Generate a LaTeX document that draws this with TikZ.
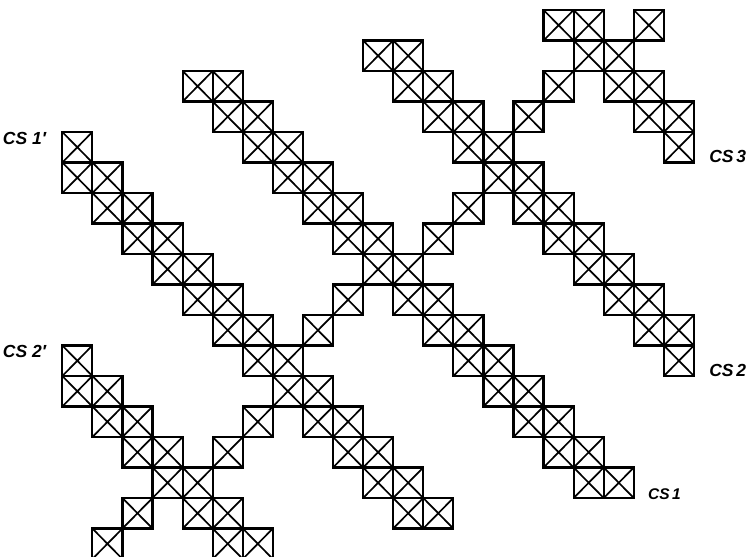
\documentclass[tikz,border=0pt]{standalone}
\usepackage{fontspec}
\setsansfont{Liberation Sans}
\usepackage{tikz}
\usetikzlibrary{positioning}

\begin{document}
\begin{tikzpicture}[
    x=30.08pt, y=-30.5pt,
    cell/.style={draw, line width=2.2pt, minimum width=30.08pt, minimum height=30.5pt, inner sep=0pt,
        path picture={\draw[line width=1.7pt]
            (path picture bounding box.north west) -- (path picture bounding box.south east)
            (path picture bounding box.south west) -- (path picture bounding box.north east);}},
    cslabel/.style={font=\sffamily\bfseries\itshape\fontsize{17.5}{17.5}\selectfont, inner sep=0pt},
]
\useasboundingbox (-2.071,-0.328) rectangle (22.796,17.934);
\clip (-2.071,-0.328) rectangle (22.796,17.934);

% CS 1' band
\node[cell] (c-0-4) at (0.5,4.5) {};
\foreach \r [evaluate=\r as \a using int(\r-5), evaluate=\r as \b using int(\r-4)] in {5,...,16} {
    \node[cell] (c-\a-\r) at (\a+.5,\r+.5) {};
    \node[cell] (c-\b-\r) at (\b+.5,\r+.5) {};
}

% CS 1 band
\foreach \r [evaluate=\r as \a using int(\r+2), evaluate=\r as \b using int(\r+3)] in {2,...,15} {
    \node[cell] (c-\a-\r) at (\a+.5,\r+.5) {};
    \node[cell] (c-\b-\r) at (\b+.5,\r+.5) {};
}

% CS 2' band
\node[cell] (c-0-11) at (0.5,11.5) {};
\foreach \r [evaluate=\r as \a using int(\r-12), evaluate=\r as \b using int(\r-11)] in {12,...,17} {
    \node[cell] (c-\a-\r) at (\a+.5,\r+.5) {};
    \node[cell] (c-\b-\r) at (\b+.5,\r+.5) {};
}

% CS 2 band
\foreach \r [evaluate=\r as \a using int(\r+9), evaluate=\r as \b using int(\r+10)] in {1,...,10} {
    \node[cell] (c-\a-\r) at (\a+.5,\r+.5) {};
    \node[cell] (c-\b-\r) at (\b+.5,\r+.5) {};
}
\node[cell] (c-20-11) at (20.5,11.5) {};

% CS 3 band
\foreach \r [evaluate=\r as \a using int(\r+16), evaluate=\r as \b using int(\r+17)] in {0,...,3} {
    \node[cell] (c-\a-\r) at (\a+.5,\r+.5) {};
    \node[cell] (c-\b-\r) at (\b+.5,\r+.5) {};
}
\node[cell] (c-20-4) at (20.5,4.5) {};

% crossing band
\foreach \i/\j in {19/0, 16/2, 15/3, 13/6, 12/7, 9/9, 8/10, 6/13, 5/14, 2/16, 1/17}
    \node[cell] (c-\i-\j) at (\i+.5,\j+.5) {};

% labels
\node[cslabel, anchor=base east] (cs1p) at ([xshift=-15pt, yshift=-13.5pt]c-0-4.north west) {CS 1′};
\node[cslabel, anchor=base east] (cs2p) at ([xshift=-15pt, yshift=-13.5pt]c-0-11.north west) {CS 2′};
\node[cslabel, anchor=base west] (cs3) at ([xshift=14pt, yshift=1pt]c-20-4.south east) {CS\,3};
\node[cslabel, anchor=base west] (cs2) at ([xshift=14pt, yshift=1pt]c-20-11.south east) {CS\,2};
\node[cslabel, anchor=base west, font=\sffamily\bfseries\itshape\fontsize{15.5}{15.5}\selectfont] (cs1) at ([xshift=13pt, yshift=0pt]c-18-15.south east) {CS\,1};

\end{tikzpicture}
\end{document}
